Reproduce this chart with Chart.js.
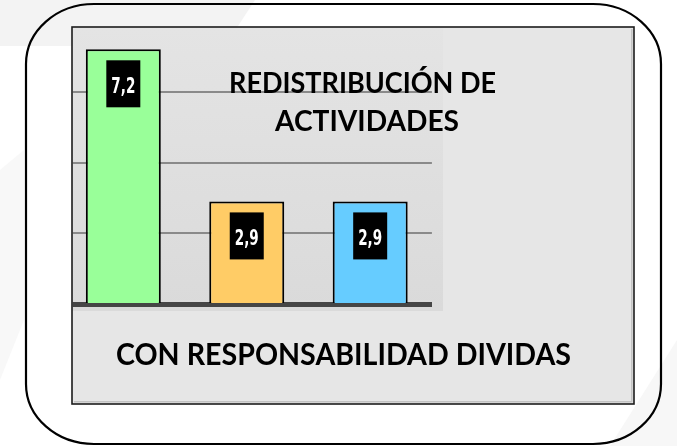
<!DOCTYPE html>
<html>
<head>
<meta charset="utf-8">
<script src="https://cdn.jsdelivr.net/npm/chart.js@4/dist/chart.umd.min.js"></script>
<style>
  html, body { margin: 0; padding: 0; background: #ffffff; overflow: hidden; }
  canvas { display: block; }
</style>
</head>
<body>
<canvas id="chart" width="677" height="446"></canvas>
<script>
// Data
const categories = ['Grupo 1', 'Grupo 2', 'Grupo 3'];
const values = [7.2, 2.9, 2.9];
const barColors = ['#99ff99', '#ffcc66', '#66ccff'];
const yMin = 0;
const yMax = 8;
const yStep = 2;
const titleLines = ['REDISTRIBUCIÓN DE', 'ACTIVIDADES'];
const footerText = 'CON RESPONSABILIDAD DIVIDAS';

// Frame geometry
const FRAME = { x: 26, y: 4, w: 635, h: 440, rx: 68, ry: 60 };
const PANEL = { x: 72, y: 27, w: 562, h: 377 };
const PLOT_BG = { x: 72, y: 27, w: 371, h: 284 };

function drawScaledText(ctx, text, cx, baseline, font, width, color) {
  ctx.save();
  ctx.font = font;
  const w = ctx.measureText(text).width;
  ctx.translate(cx, baseline);
  ctx.scale(width / w, 1);
  ctx.textAlign = 'center';
  ctx.textBaseline = 'alphabetic';
  ctx.fillStyle = color;
  ctx.fillText(text, 0, 0);
  ctx.restore();
}

function roundedFrame(ctx, f) {
  const { x, y, w, h, rx, ry } = f;
  ctx.beginPath();
  ctx.moveTo(x + rx, y);
  ctx.lineTo(x + w - rx, y);
  ctx.ellipse(x + w - rx, y + ry, rx, ry, 0, -Math.PI / 2, 0);
  ctx.lineTo(x + w, y + h - ry);
  ctx.ellipse(x + w - rx, y + h - ry, rx, ry, 0, 0, Math.PI / 2);
  ctx.lineTo(x + rx, y + h);
  ctx.ellipse(x + rx, y + h - ry, rx, ry, 0, Math.PI / 2, Math.PI);
  ctx.lineTo(x, y + ry);
  ctx.ellipse(x + rx, y + ry, rx, ry, 0, Math.PI, Math.PI * 1.5);
  ctx.closePath();
}

function poly(ctx, pts, color) {
  ctx.beginPath();
  ctx.moveTo(pts[0][0], pts[0][1]);
  for (let i = 1; i < pts.length; i++) ctx.lineTo(pts[i][0], pts[i][1]);
  ctx.closePath();
  ctx.fillStyle = color;
  ctx.fill();
}

const decor = {
  id: 'decor',
  beforeDraw(chart) {
    const ctx = chart.ctx;
    ctx.save();
    // page background with soft streaks
    ctx.fillStyle = '#ffffff';
    ctx.fillRect(0, 0, chart.width, chart.height);
    poly(ctx, [[0, 0], [255, 0], [225, 46], [0, 46]], '#f3f3f3');
    poly(ctx, [[0, 170], [24, 150], [24, 320], [0, 380]], '#f8f8f8');
    poly(ctx, [[610, 446], [677, 340], [677, 446]], '#f7f7f7');
    // grey panel and plot background
    ctx.fillStyle = '#e6e6e6';
    ctx.fillRect(PANEL.x, PANEL.y, PANEL.w, PANEL.h);
    const g = ctx.createLinearGradient(0, PLOT_BG.y, 0, PLOT_BG.y + PLOT_BG.h);
    g.addColorStop(0, '#e4e4e4');
    g.addColorStop(1, '#dadada');
    ctx.fillStyle = g;
    ctx.fillRect(PLOT_BG.x, PLOT_BG.y, PLOT_BG.w, PLOT_BG.h);
    ctx.restore();
    // keep grid, bars and axis inside the panel
    ctx.save();
    ctx.beginPath();
    ctx.rect(PANEL.x + 0.8, PANEL.y + 0.8, PANEL.w - 1.6, PANEL.h - 1.6);
    ctx.clip();
  },
  afterDatasetsDraw(chart) {
    const ctx = chart.ctx;
    const meta = chart.getDatasetMeta(0);
    meta.data.forEach((bar, i) => {
      const { x, y } = bar.getProps(['x', 'y'], true);
      const bx = x - 17, by = y + 11;
      ctx.fillStyle = '#000000';
      ctx.fillRect(bx, by, 34, 47);
      const label = values[i].toFixed(1).replace('.', ',');
      drawScaledText(ctx, label, x, by + 33, 'bold 20.5px "DejaVu Sans"', 24, '#ffffff');
    });
  },
  afterDraw(chart) {
    const ctx = chart.ctx;
    ctx.restore();
    ctx.save();
    // panel border with inner shading
    ctx.strokeStyle = '#c2c2c2';
    ctx.lineWidth = 1.5;
    ctx.beginPath();
    ctx.moveTo(PANEL.x + 2, PANEL.y + PANEL.h - 2.2);
    ctx.lineTo(PANEL.x + PANEL.w - 2.2, PANEL.y + PANEL.h - 2.2);
    ctx.lineTo(PANEL.x + PANEL.w - 2.2, PANEL.y + 2);
    ctx.stroke();
    ctx.strokeStyle = '#1c1c1c';
    ctx.lineWidth = 1.6;
    ctx.strokeRect(PANEL.x, PANEL.y, PANEL.w, PANEL.h);
    // outer rounded frame
    roundedFrame(ctx, FRAME);
    ctx.strokeStyle = '#000000';
    ctx.lineWidth = 2.2;
    ctx.stroke();
    // texts
    drawScaledText(ctx, titleLines[0], 362.5, 92.7, 'bold 28px Lato', 267, '#000000');
    drawScaledText(ctx, titleLines[1], 367, 130.7, 'bold 28px Lato', 184, '#000000');
    drawScaledText(ctx, footerText, 343.5, 365, 'bold 31px Lato', 455, '#000000');
    ctx.restore();
  }
};

new Chart(document.getElementById('chart'), {
  type: 'bar',
  data: {
    labels: categories,
    datasets: [{
      data: values,
      backgroundColor: barColors,
      borderColor: '#000000',
      borderWidth: 2,
      borderSkipped: 'bottom',
      barPercentage: 0.6075,
      categoryPercentage: 1.0
    }]
  },
  options: {
    responsive: false,
    animation: false,
    devicePixelRatio: 1,
    layout: { padding: { left: 61.6, right: 245.1, top: 21, bottom: 142 } },
    plugins: {
      legend: { display: false },
      tooltip: { enabled: false },
      title: { display: false }
    },
    scales: {
      x: {
        grid: { display: true, drawOnChartArea: false, drawTicks: false },
        ticks: { display: false },
        border: { display: true, width: 5, color: '#454545' }
      },
      y: {
        min: yMin,
        max: yMax,
        ticks: { display: false, stepSize: yStep },
        grid: {
          drawTicks: false,
          lineWidth: 2,
          color: (c) => (c.tick && c.tick.value === 0) ? 'rgba(0,0,0,0)' : '#8a8a8a'
        },
        border: { display: false }
      }
    }
  },
  plugins: [decor]
});
</script>
</body>
</html>
